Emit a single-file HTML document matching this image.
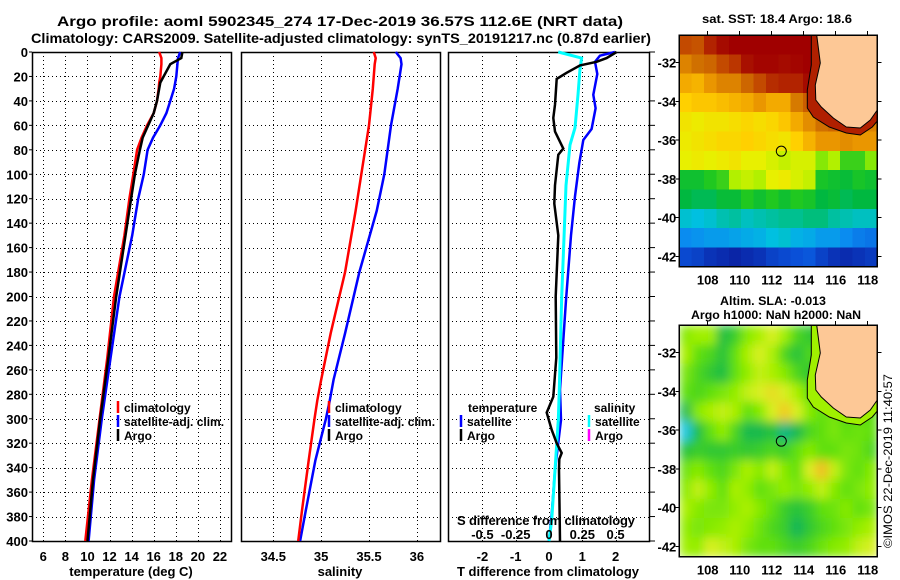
<!DOCTYPE html>
<html><head><meta charset="utf-8"><title>Argo profile</title>
<style>
html,body{margin:0;padding:0;background:#fff;}
svg{display:block;font-family:"Liberation Sans",Arial,sans-serif;font-weight:bold;}
text{font-weight:bold;}
</style></head>
<body>
<svg id="root" width="900" height="580" viewBox="0 0 900 580" xmlns="http://www.w3.org/2000/svg">
<defs>
<filter id="smooth" x="0" y="0" width="1" height="1"><feGaussianBlur stdDeviation="5" edgeMode="duplicate"/></filter>
<clipPath id="slaClip"><rect x="679.3" y="325" width="198" height="231.7"/></clipPath>
</defs>
<rect x="0" y="0" width="900" height="580" fill="#fff"/>
<text x="340" y="26" font-size="14" text-anchor="middle" textLength="566" lengthAdjust="spacingAndGlyphs">Argo profile: aoml 5902345_274 17-Dec-2019 36.57S 112.6E (NRT data)</text>
<text x="341" y="43" font-size="14" text-anchor="middle" textLength="620" lengthAdjust="spacingAndGlyphs">Climatology: CARS2009. Satellite-adjusted climatology: synTS_20191217.nc (0.87d earlier)</text>
<text x="777" y="23" font-size="12" text-anchor="middle" textLength="150" lengthAdjust="spacingAndGlyphs">sat. SST: 18.4 Argo: 18.6</text>
<text x="773" y="305" font-size="12" text-anchor="middle" textLength="106" lengthAdjust="spacingAndGlyphs">Altim. SLA: -0.013</text>
<text x="776" y="319" font-size="12" text-anchor="middle" textLength="170" lengthAdjust="spacingAndGlyphs">Argo h1000: NaN h2000: NaN</text>
<text x="0" y="0" font-size="12" style="font-weight:normal" text-anchor="middle" transform="translate(892,461) rotate(-90)" textLength="174" lengthAdjust="spacingAndGlyphs">©IMOS 22-Dec-2019 11:40:57</text>
<g id="charts"></g>
</svg>
<script>
// ---------- data ----------
var depthTicks = [0,20,40,60,80,100,120,140,160,180,200,220,240,260,280,300,320,340,360,380,400];
var tempTicks = [6,8,10,12,14,16,18,20,22];
var salTicks = [34.5,35,35.5,36];
var salTickLabels = ["34.5","35","35.5","36"];
var tdiffTicks = [-2,-1,0,1,2];
var sdiffTicks = [-0.5,-0.25,0,0.25,0.5];
var sdiffTickLabels = ["-0.5","-0.25","0","0.25","0.5"];

var tempDepth = [0,5,10,20,25,30,40,50,60,70,80,100,120,150,200,250,300,350,400];
var climTemp  = [16.5,16.7,16.7,16.6,16.5,16.45,16.3,16.0,15.4,14.9,14.5,14.15,13.8,13.35,12.4,11.8,11.1,10.4,9.8];
var argoTemp  = [18.6,18.5,17.5,16.9,16.6,16.5,16.3,16.0,15.5,15.0,14.75,14.3,13.95,13.45,12.6,11.9,11.15,10.5,10.0];
var satTemp   = [18.4,18.2,18.15,18.05,17.95,17.85,17.5,17.15,16.6,15.95,15.45,15.1,14.6,14.05,12.9,12.1,11.3,10.6,10.1];

var salDepth = [0,5,10,30,60,100,130,180,230,268,285,300,334,375,400];
var climSal  = [35.55,35.57,35.56,35.54,35.5,35.42,35.36,35.25,35.1,35.0,34.96,34.93,34.87,34.8,34.76];
var satSal   = [35.78,35.83,35.84,35.8,35.73,35.66,35.58,35.4,35.25,35.13,35.09,35.05,34.94,34.84,34.78];

var satSdiffDepth = [0,5,14,35,62,76,109,150,200,276,301,342,383,400];
var satSdiff      = [0.07,0.245,0.233,0.218,0.195,0.158,0.128,0.113,0.095,0.077,0.07,0.045,0.02,0.0];
var satTdiffDepth = [0,3,8,18,35,46,63,72,91,118,150,203,276,301,342,375,400];
var satTdiff      = [1.98,1.53,1.38,1.45,1.33,1.4,1.28,1.03,0.91,0.78,0.66,0.51,0.33,0.36,0.18,0.09,0.0];
var argoTdiffDepth = [0,5,8,11,17,22,43,54,65,79,84,109,124,150,200,250,282,295,309,320,328,333,342,400];
var argoTdiff      = [2.03,1.73,1.43,0.93,0.53,0.23,0.18,0.13,0.18,0.43,0.28,0.18,0.16,0.28,0.2,0.22,0.13,-0.07,0.08,0.23,0.38,0.31,0.3,0.33];

var lonTicks = [108,110,112,114,116,118];
var latTicks = [-32,-34,-36,-38,-40,-42];
var argoLon = [112.6];
var argoLat = [-36.57];

var sstGrid = [
[20.6,20.5,21,21.3,21.5,21.5,21.5,21.5,21.5,21.5,21.5,21.5,21.3,21.5,21.5,21.5],
[20.0,20.2,20.3,20.6,20.8,21.2,21.4,21.4,21.3,21.4,21.5,21.5,21.3,21.5,21.5,21.5],
[19.6,19.5,19.8,20.0,20.0,20.3,20.6,20.9,21.0,21.0,21.3,21.3,21.0,21.5,21.5,21.5],
[19.2,19.3,19.3,19.4,19.5,19.6,19.8,19.6,19.6,20.1,20.4,20.7,20.5,20.3,21.5,21.5],
[18.9,18.8,18.9,18.9,19.0,19.1,19.0,19.1,19.3,19.6,19.9,20.2,20.3,20.2,20.2,20.0],
[18.8,18.9,19.0,19.1,19.1,19.2,19.1,19.0,18.9,19.2,19.5,19.8,19.8,19.9,19.8,19.8],
[18.7,18.8,18.7,18.8,18.9,18.7,18.7,18.6,18.5,18.6,18.6,18.2,18.4,17.9,17.9,18.2],
[17.6,17.6,17.8,17.9,18.4,18.5,18.4,18.7,18.8,18.6,18.5,17.7,17.6,17.5,17.7,17.6],
[17.4,17.3,17.3,17.5,17.5,17.8,17.6,17.8,17.6,17.8,17.7,17.4,17.5,17.3,17.4,17.4],
[16.6,16.5,16.6,16.8,16.9,16.7,16.8,16.9,17.0,17.0,17.1,17.1,16.9,16.8,16.7,16.7],
[15.8,15.9,16.0,16.0,16.1,16.2,16.3,16.5,16.6,16.3,16.2,16.0,16.0,15.8,15.6,15.5],
[14.9,14.8,14.6,14.5,14.4,14.5,14.6,14.8,14.9,15.0,15.1,14.8,14.6,14.5,14.6,14.7]
];
var slaGrid = [
[0.05,0.07,0.07,-0.05,-0.02,0.05,0.08,0.12,0.07,0.0,-0.03,-0.03,0.0,0.02,0.02,0.02],
[0.08,0.02,0.0,-0.04,0.02,0.08,0.12,0.08,0.0,-0.04,0.0,0.0,0.0,0.02,0.02,0.02],
[0.04,0.0,-0.03,-0.05,0.02,0.06,0.1,0.08,0.05,0.0,-0.03,-0.02,0.0,0.02,0.02,0.02],
[0.02,0.0,0.02,0.04,0.06,0.1,0.12,0.15,0.12,0.08,0.02,0.0,0.02,0.02,0.02,0.02],
[-0.06,0.05,0.08,0.1,0.08,0.02,0.05,0.12,0.18,0.12,0.05,0.02,0.04,0.0,0.0,0.02],
[-0.15,-0.05,0.02,0.06,0.0,-0.06,-0.06,-0.04,-0.1,-0.06,0.0,0.02,0.04,0.02,0.03,0.02],
[-0.04,-0.02,-0.03,-0.03,-0.02,-0.03,-0.02,0.0,-0.02,0.02,0.05,0.02,0.02,0.04,0.03,0.0],
[0.03,0.05,0.02,0.0,0.04,0.08,0.05,0.1,0.05,0.02,0.12,0.2,0.1,0.04,0.02,0.05],
[0.05,0.1,0.06,0.02,0.08,0.06,0.02,0.04,0.06,0.04,0.06,0.1,0.05,0.02,0.04,0.06],
[0.08,0.05,0.04,0.04,0.06,0.08,0.05,0.02,-0.02,-0.04,-0.02,0.02,0.03,0.05,0.02,0.04],
[0.06,0.04,0.05,0.06,0.08,0.06,0.03,0.0,-0.02,-0.07,-0.03,0.0,0.02,0.04,0.06,0.08],
[0.07,0.06,0.12,0.1,0.08,0.04,0.02,0.02,0.0,-0.02,0.0,0.03,0.05,0.06,0.1,0.12]
];
var sstStops = [14.3,15,15.8,16.5,17,17.4,17.8,18.3,18.7,19.2,19.7,20.2,20.7,21.2,21.5];
var sstColors = ['#0a1e9e','#0a50d8','#0a8cf0','#00c0e0','#00c090','#00b840','#20c820','#a0f000','#e8f000','#ffd000','#f0a000','#d07000','#c04000','#a81000','#a00000'];
var slaStops = [-0.15,-0.08,-0.03,0.02,0.07,0.12,0.17,0.22];
var slaColors = ['#20c8e0','#00b060','#30c830','#60e010','#a0f000','#d8f020','#f0d020','#f0b020'];

// ---------- scales ----------
function yD(d){ return 52 + d*1.2225; }
function xT(t){ return 43.3 + (t-6)*11.04; }
function xS(s){ return 273.3 + (s-34.5)*95.7; }
function xdT(t){ return 549 + t*33.3; }
function xdS(s){ return 549 + s*133.2; }
function mapX(lon){ return 707.7 + (lon-108)*16; }
function mapY(lat, off){ return off + 62.7 + (-32-lat)*19.36; }

var NS = "http://www.w3.org/2000/svg";
var root = document.getElementById('charts');
function mk(tag, attrs, parent){
  var e = document.createElementNS(NS, tag);
  for (var k in attrs) e.setAttribute(k, attrs[k]);
  (parent||root).appendChild(e);
  return e;
}
function txt(x,y,s,size,anchor,parent){
  var t = mk('text',{x:x,y:y,'font-size':size,'text-anchor':anchor||'middle'},parent);
  t.textContent = s;
  return t;
}
function hexToRgb(h){ return [parseInt(h.substr(1,2),16),parseInt(h.substr(3,2),16),parseInt(h.substr(5,2),16)]; }
function cmap(v, stops, colors){
  if (v<=stops[0]) return colors[0];
  for (var i=1;i<stops.length;i++){
    if (v<=stops[i]){
      var f=(v-stops[i-1])/(stops[i]-stops[i-1]);
      var a=hexToRgb(colors[i-1]), b=hexToRgb(colors[i]);
      return 'rgb('+Math.round(a[0]+(b[0]-a[0])*f)+','+Math.round(a[1]+(b[1]-a[1])*f)+','+Math.round(a[2]+(b[2]-a[2])*f)+')';
    }
  }
  return colors[colors.length-1];
}

// ---------- profile panels ----------
var panels = [
  {name:'temperature-panel', x0:32, x1:231, ticks:tempTicks, labels:tempTicks.map(String), sx:xT, title:'temperature (deg C)', tcx:131},
  {name:'salinity-panel', x0:241, x1:440, ticks:salTicks, labels:salTickLabels, sx:xS, title:'salinity', tcx:340},
  {name:'difference-panel', x0:448, x1:649, ticks:tdiffTicks, labels:tdiffTicks.map(String), sx:xdT, title:'T difference from climatology', tcx:548}
];
panels.forEach(function(p, pi){
  var g = mk('g',{});
  
  
  var grid = mk('g',{stroke:'#000','stroke-width':1,'stroke-dasharray':'1,3'},g);
  
  
  depthTicks.forEach(function(d){
    if (d===0||d===400) return;
    mk('line',{x1:p.x0,x2:p.x1,y1:Math.round(yD(d))+0.5,y2:Math.round(yD(d))+0.5},grid);
  });
  p.ticks.forEach(function(t){
    var x=Math.round(p.sx(t))+0.5;
    mk('line',{x1:x,x2:x,y1:52,y2:541},grid);
  });
  var xl = mk('g',{},g);
  
  
  p.ticks.forEach(function(t,i){ txt(p.sx(t), 561, p.labels[i], 13, 'middle', xl); });
  var at = txt(p.tcx, 576, p.title, 13, 'middle', g);
  
  
  var fr = mk('rect',{x:p.x0+0.5,y:52.5,width:p.x1-p.x0,height:489,fill:'none',stroke:'#000','stroke-width':1.5},g);
  
  
  p.g = g;
});
var ylab = mk('g',{});


depthTicks.forEach(function(d){
  txt(28, yD(d)+5, String(d), 13, 'end', ylab);
  mk('line',{x1:29,x2:32,y1:yD(d),y2:yD(d),stroke:'#000'},ylab);
  mk('line',{x1:649,x2:655,y1:yD(d),y2:yD(d),stroke:'#000'},ylab);
});

function series(depths, vals, sx, color, name, w){
  var pts = depths.map(function(d,i){ return sx(vals[i]).toFixed(1)+','+yD(d).toFixed(1); }).join(' ');
  var pl = mk('polyline',{points:pts,fill:'none',stroke:color,'stroke-width':w||2.5,'stroke-linejoin':'miter'});
  
  
}
series(tempDepth, satTemp, xT, '#0000ff', 'satellite-temperature-line');
series(tempDepth, climTemp, xT, '#ff0000', 'climatology-temperature-line');
series(tempDepth, argoTemp, xT, '#000000', 'argo-temperature-line');
series(salDepth, satSal, xS, '#0000ff', 'satellite-salinity-line');
series(salDepth, climSal, xS, '#ff0000', 'climatology-salinity-line');
series(satTdiffDepth, satTdiff, xdT, '#0000ff', 'satellite-t-difference-line');
series(satSdiffDepth, satSdiff, xdS, '#00ffff', 'satellite-s-difference-line', 3);
series(argoTdiffDepth, argoTdiff, xdT, '#000000', 'argo-t-difference-line');

var sg = mk('g',{});


txt(546, 525, 'S difference from climatology', 13, 'middle', sg).setAttribute('textLength','178');
sdiffTicks.forEach(function(s,i){ txt(xdS(s), 539, sdiffTickLabels[i], 13, 'middle', sg); });

function legendEntry(x, y, color, label, name){
  var g = mk('g',{});
  
  
  if (color) mk('line',{x1:x,x2:x,y1:y-11,y2:y+1,stroke:color,'stroke-width':2.5},g);
  txt(x+6, y, label, 12, 'start', g);
}
legendEntry(118, 412, '#ff0000', 'climatology', 'legend-entry-climatology');
legendEntry(118, 426, '#0000ff', 'satellite-adj. clim.', 'legend-entry-satellite');
legendEntry(118, 440, '#000000', 'Argo', 'legend-entry-argo');
legendEntry(329, 412, '#ff0000', 'climatology', 'legend-entry-sal-climatology');
legendEntry(329, 426, '#0000ff', 'satellite-adj. clim.', 'legend-entry-sal-satellite');
legendEntry(329, 440, '#000000', 'Argo', 'legend-entry-sal-argo');
legendEntry(462, 412, null, 'temperature', 'legend-heading-temperature');
legendEntry(461, 426, '#0000ff', 'satellite', 'legend-entry-t-satellite');
legendEntry(461, 440, '#000000', 'Argo', 'legend-entry-t-argo');
legendEntry(588, 412, null, 'salinity', 'legend-heading-salinity');
legendEntry(589, 426, '#00ffff', 'satellite', 'legend-entry-s-satellite');
legendEntry(589, 440, '#ff00ff', 'Argo', 'legend-entry-s-argo');

// ---------- maps ----------
var landRel = [[137.4,0],[141,28],[136,50],[136.5,65],[142,72],[154,83],[167,92],[181,93],[191,85],[198,75],[198,0]];
var contourRel = [[132,0],[132,30],[128,55],[128,73],[134,82],[150,92],[167,98],[181,100],[193,92],[198,86]];
function drawMap(off, gridData, stops, colors, name, stripColor, smooth){
  var g = mk('g',{'shape-rendering':'crispEdges'});
  
  
  var x0=679.3, y0=off+35, w=198, h=231.7;
  var cw=w/16, ch=h/12;
  var cells = mk('g', smooth ? {filter:'url(#smooth)','clip-path':'url(#slaClip)'} : {}, g);
  var cg = smooth ? mk('g',{},cells) : cells;
  gridData.forEach(function(row, r){
    row.forEach(function(v, c){
      var cell = mk('rect',{x:(x0+c*cw).toFixed(2),y:(y0+r*ch).toFixed(2),width:(cw+0.6).toFixed(2),height:(ch+0.6).toFixed(2),fill:cmap(v,stops,colors)},cg);
      
      
    });
  });
  if (stripColor){
    var strip = contourRel.concat([[198,0]]).map(function(p){return (x0+p[0])+','+(y0+p[1]);}).join(' ');
    mk('polygon',{points:strip,fill:stripColor},g);
  }
  var land = mk('polygon',{points:landRel.map(function(p){return (x0+p[0])+','+(y0+p[1]);}).join(' '),fill:'#fdc896',stroke:'#000','stroke-width':1,'shape-rendering':'auto'},g);
  
  
  var ct = mk('polyline',{points:contourRel.map(function(p){return (x0+p[0])+','+(y0+p[1]);}).join(' '),fill:'none',stroke:'#000','stroke-width':1,'shape-rendering':'auto'},g);
  
  
  var mark = mk('circle',{cx:mapX(argoLon[0]),cy:mapY(argoLat[0],off),r:5,fill:'none',stroke:'#000','stroke-width':1,'shape-rendering':'auto'},g);
  
  
  mk('rect',{x:x0,y:y0,width:w,height:h,fill:'none',stroke:'#000','stroke-width':1.5},g);
  lonTicks.forEach(function(l){
    var x=mapX(l);
    mk('line',{x1:x,x2:x,y1:y0-4,y2:y0,stroke:'#000'},g);
    txt(x, y0+h+18, String(l), 13, 'middle', g);
  });
  latTicks.forEach(function(l){
    var y=mapY(l,off);
    mk('line',{x1:x0-4,x2:x0,y1:y,y2:y,stroke:'#000'},g);
    mk('line',{x1:x0+w,x2:x0+w+4,y1:y,y2:y,stroke:'#000'},g);
    txt(x0-3, y+5, String(l), 13, 'end', g);
  });
}
drawMap(0, sstGrid, sstStops, sstColors, 'sst-map', '#b02000', false);
drawMap(290, slaGrid, slaStops, slaColors, 'sla-map', '#a0f000', true);
</script>
</body></html>
